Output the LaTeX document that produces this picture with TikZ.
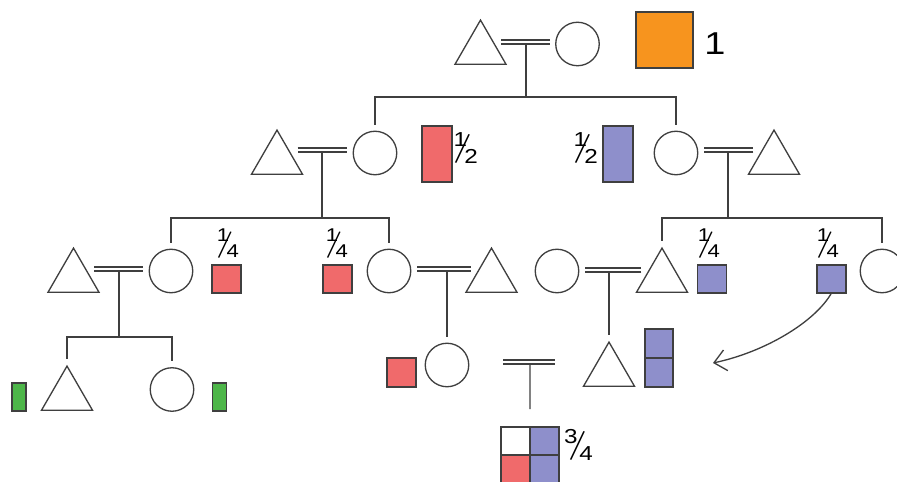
\documentclass[tikz,border=0pt]{standalone}
\usepackage{fontspec}
\setmainfont{Liberation Sans}
\usetikzlibrary{shapes.geometric, arrows.meta, positioning}
\definecolor{linegray}{HTML}{3F3F3F}
\definecolor{shareorange}{HTML}{F7941E}
\definecolor{sharered}{HTML}{F06A6B}
\definecolor{shareblue}{HTML}{8E8FCB}
\definecolor{sharegreen}{HTML}{4DB649}
\newcommand{\slfrac}[3][-0.08em]{%
  \rlap{\hspace*{#1}\raisebox{0.89em}{\scalebox{1.2}[1]{#2}}}%
  \rlap{\raisebox{0.05em}{\rotatebox[origin=lB]{-18}{\scalebox{1}[2.1]{/}}}}%
  \hspace*{0.45em}\scalebox{1.2}[1]{#3}}

\begin{document}
\begin{tikzpicture}[x=0.02cm, y=-0.02cm]
\tikzstyle{male} = [regular polygon, regular polygon sides=3, minimum size=1.18cm, inner sep=0pt, draw=linegray, line width=0.75pt, anchor=side 2]
\tikzstyle{female} = [circle, minimum size=0.87cm, inner sep=0pt, draw=linegray, line width=0.75pt]
\tikzstyle{share} = [rectangle, inner sep=0pt, outer sep=0pt, draw=linegray, line width=0.6pt]
\tikzstyle{half} = [share, minimum width=0.6cm, minimum height=1.12cm]
\tikzstyle{quarter} = [share, minimum width=0.58cm, minimum height=0.56cm]
\tikzstyle{eighth} = [share, minimum width=0.28cm, minimum height=0.56cm]
\tikzstyle{frac} = [inner sep=0pt, anchor=base west, font=\fontsize{11.5}{12}\selectfont]
\tikzstyle{smallfrac} = [frac, font=\fontsize{10.5}{11}\selectfont]
\tikzstyle{kin} = [draw=linegray, line width=0.75pt, shorten <=3.4pt, shorten >=3.4pt]
\tikzstyle{desc} = [draw=linegray, line width=0.75pt]
\tikzstyle{couple} = [draw=linegray, line width=0.75pt, double=white, double distance=1.6pt, shorten <=4.2pt, shorten >=3pt]

\path[use as bounding box, fill=white] (0,0) rectangle (897,482);

\node (gf) [male] at (480.5,65) {};
\node (gm) [female] at (577.5,44) {};
\node (shr1) [share, fill=shareorange, minimum width=1.14cm, minimum height=1.12cm] at (664.5,40) {};
\node (lab1) [inner sep=0pt, anchor=base west, font=\fontsize{18}{18}\selectfont] at (704,55) {\scalebox{1.2}[1]{1}};

\node (m2l) [male] at (277,175) {};
\node (f2l) [female] at (375,153) {};
\node (shr2l) [half, fill=sharered] at (437,154) {};
\node (fr2l) [frac] at (455,164) {\slfrac{1}{2}};
\node (shr2r) [half, fill=shareblue] at (618,154) {};
\node (fr2r) [frac] at (575,164) {\slfrac{1}{2}};
\node (f2r) [female] at (676,153) {};
\node (m2r) [male] at (774,175) {};

\node (m3a) [male] at (73.5,293) {};
\node (f3a) [female] at (171,271) {};
\node (shr3a) [quarter, fill=sharered] at (226.5,279) {};
\node (fr3a) [smallfrac] at (218,258) {\slfrac{1}{4}};
\node (shr3b) [quarter, fill=sharered] at (337.5,279) {};
\node (fr3b) [smallfrac] at (327,258) {\slfrac{1}{4}};
\node (f3b) [female] at (389,271) {};
\node (m3b) [male] at (491.5,293) {};
\node (f3c) [female] at (557,271) {};
\node (m3c) [male] at (662,293) {};
\node (shr3c) [quarter, fill=shareblue] at (712,279) {};
\node (fr3c) [smallfrac] at (699,258) {\slfrac{1}{4}};
\node (shr3d) [quarter, fill=shareblue] at (831.5,279) {};
\node (fr3d) [smallfrac] at (818,258) {\slfrac{1}{4}};
\node (f3d) [female] at (882,271) {};

\node (m4a) [male] at (67,411) {};
\node (f4a) [female] at (172,389.5) {};
\node (shr4a) [eighth, fill=sharegreen] at (19,397) {};
\node (shr4b) [eighth, fill=sharegreen] at (219.5,397) {};
\node (shr4c) [quarter, minimum height=0.58cm, fill=sharered] at (401.5,372.5) {};
\node (f4b) [female] at (447,365) {};
\node (m4c) [male] at (609,387) {};
\node (shr4d) [quarter, minimum width=0.56cm, minimum height=0.58cm, fill=shareblue] at (659,343.5) {};
\node (shr4e) [quarter, minimum width=0.56cm, minimum height=0.58cm, fill=shareblue, below=0pt of shr4d] {};

\node (g11) [quarter, fill=white] at (515.5,441) {};
\node (g12) [quarter, fill=shareblue, right=0pt of g11] {};
\node (g21) [quarter, fill=sharered, below=0pt of g11] {};
\node (g22) [quarter, fill=shareblue, right=0pt of g21] {};
\node (fr5) [frac] at (570,461) {\slfrac[-0.31em]{3}{4}};

\coordinate (mm1) at (526,42);
\coordinate (sb1) at (526,97);
\coordinate (mm2l) at (322,150);
\coordinate (sb2l) at (322,218);
\coordinate (mm2r) at (728,150);
\coordinate (sb2r) at (728,218);
\coordinate (mm3a) at (119,269);
\coordinate (sb3) at (119,337);
\coordinate (mm3b) at (447,269);
\coordinate (mm3c) at (609,270);
\coordinate (mm4l) at (503,362);
\coordinate (mm4) at (530,362);
\coordinate (mm4r) at (555,362);
\coordinate (arr) at (713,363);

\draw[desc] (mm1) -- (sb1);
\draw[desc] (mm2l) -- (sb2l);
\draw[desc] (mm2r) -- (sb2r);
\draw[desc] (mm3a) -- (sb3);
\draw[desc, shorten >=3.4pt] (mm3b) -- (f4b);
\draw[desc, shorten >=3.4pt] (mm3c) -- (m4c);
\draw[desc, shorten >=10.2pt] (mm4) -- (g11.north east);

\draw[kin] (f2l) |- (sb1) -| (f2r);
\draw[kin] (f3a) |- (sb2l) -| (f3b);
\draw[kin] (m3c) |- (sb2r) -| (f3d);
\draw[kin] (m4a) |- (sb3) -| (f4a);

\draw[couple] (gf.side 3 |- mm1) -- (gm.west |- mm1);
\draw[couple] (m2l.side 3 |- mm2l) -- (f2l.west |- mm2l);
\draw[couple] (m2r.side 1 |- mm2r) -- (f2r.east |- mm2r);
\draw[couple] (m3a.side 3 |- mm3a) -- (f3a.west |- mm3a);
\draw[couple] (m3b.side 1 |- mm3b) -- (f3b.east |- mm3b);
\draw[couple] (m3c.side 1 |- mm3c) -- (f3c.east |- mm3c);
\draw[couple, shorten <=0pt, shorten >=0pt] (mm4l) -- (mm4r);

\draw[desc, -{Straight Barb[length=6.8pt, width=12pt]}] (shr3d.south) .. controls (815,322) and (765,352) .. (arr);

\end{tikzpicture}
\end{document}
